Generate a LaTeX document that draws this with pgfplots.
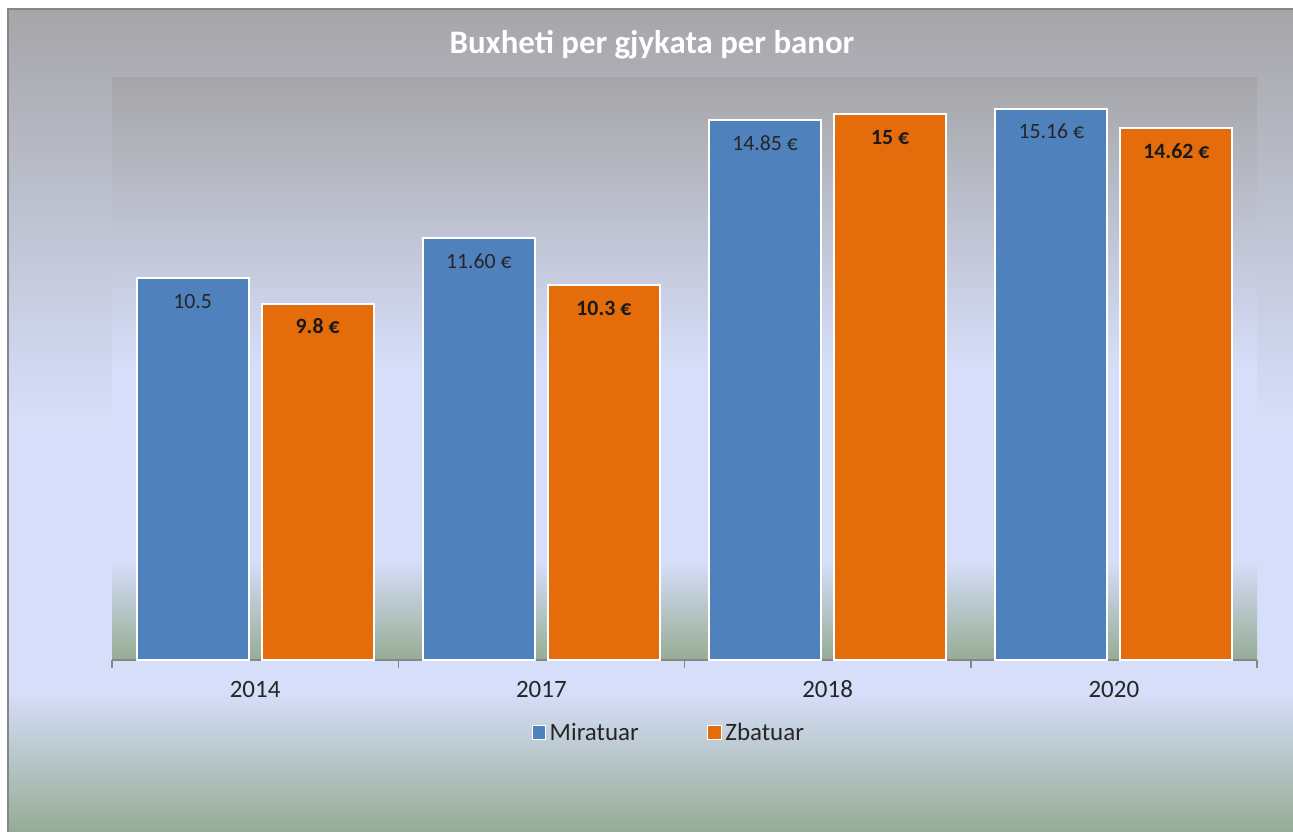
\documentclass[border=0pt]{standalone}
\usepackage{fontspec}
\setmainfont{Carlito}
\usepackage{pgfplots}
\pgfplotsset{compat=1.18}
\usepackage{pgfplotstable}
\definecolor{bgGray}{HTML}{A6A6A9}
\definecolor{bgBlue}{HTML}{D6DEF9}
\definecolor{bgGreen}{HTML}{96AC95}
\definecolor{barBlue}{HTML}{4F81BD}
\definecolor{barOrange}{HTML}{E46C0A}
\definecolor{axisGray}{HTML}{868686}
\definecolor{txt}{HTML}{262626}
\pgfdeclareverticalshading{fog}{100bp}{color(0bp)=(bgGreen); color(25bp)=(bgGreen); color(33.5bp)=(bgBlue); color(50bp)=(bgBlue); color(75bp)=(bgGray); color(100bp)=(bgGray)}
\pgfplotsset{sqlegend/.style={legend image code/.code={\draw[##1,/tikz/.cd,draw=white,line width=0.02cm] (0cm,-0.14cm) rectangle (0.27cm,0.14cm);}}}

\pgfplotstableread[col sep=comma]{
x,y,lab
0,10.5,10.5
1,11.60,11.60 €
2,14.85,14.85 €
3,15.16,15.16 €
}\mir
\pgfplotstableread[col sep=comma]{
x,y,lab
0,9.8,9.8 €
1,10.3,10.3 €
2,15,15 €
3,14.62,14.62 €
}\zba

\begin{document}
\begin{tikzpicture}
\useasboundingbox (0,0) rectangle (25.86,16.64);
\fill[white] (0,0) rectangle (25.86,16.64);
\shade[shading=fog] (0.16,0) rectangle (25.86,16.46);
\draw[axisGray, line width=0.04cm] (0.16,0) -- (0.16,16.46) -- (25.86,16.46);
\node[text=white, font=\fontsize{18.7}{22}\selectfont\bfseries] at (13.04,15.74) {Buxheti per gjykata per banor};
\begin{axis}[
  at={(2.24cm,3.44cm)}, anchor=south west,
  scale only axis, width=22.9cm, height=11.64cm,
  ybar=0.26cm, bar width=2.24cm,
  ymin=0, ymax=16, xmin=-0.5, xmax=3.5,
  axis x line*=bottom, axis y line=none,
  ytick=\empty,
  xtick={0,1,2,3}, xticklabels={2014,2017,2018,2020},
  major tick length=0pt,
  minor xtick={-0.5,0.5,1.5,2.5,3.5},
  minor tick length=0.16cm,
  tick align=outside,
  x axis line style={draw=axisGray, line width=0.03cm, -},
  minor x tick style={draw=axisGray, line width=0.03cm},
  major x tick style={draw=none},
  xticklabel style={font=\fontsize{14.2}{16}\selectfont, text=txt, text height=1.6ex, text depth=0.3ex, yshift=-0.36cm},
  axis background/.style={shading=fog},
  clip=false,
  point meta=explicit symbolic,
  nodes near coords,
  every node near coord/.append style={anchor=center, yshift=-0.46cm, text=txt, font=\fontsize{12.4}{14}\selectfont},
  legend style={at={(0.487,-0.125)}, anchor=center, draw=none, fill=none, font=\fontsize{14.2}{17}\selectfont, text=txt, /tikz/every even column/.append style={column sep=1.3cm}},
  legend columns=2,
  sqlegend,
]
\addplot[fill=barBlue, draw=white, line width=0.04cm] table[x=x, y=y, meta=lab] {\mir};
\addplot[fill=barOrange, draw=white, line width=0.04cm,
  every node near coord/.append style={font=\fontsize{12.4}{14}\selectfont\bfseries, text=black!90}] table[x=x, y=y, meta=lab] {\zba};
\legend{Miratuar, Zbatuar}
\end{axis}
\end{tikzpicture}
\end{document}
